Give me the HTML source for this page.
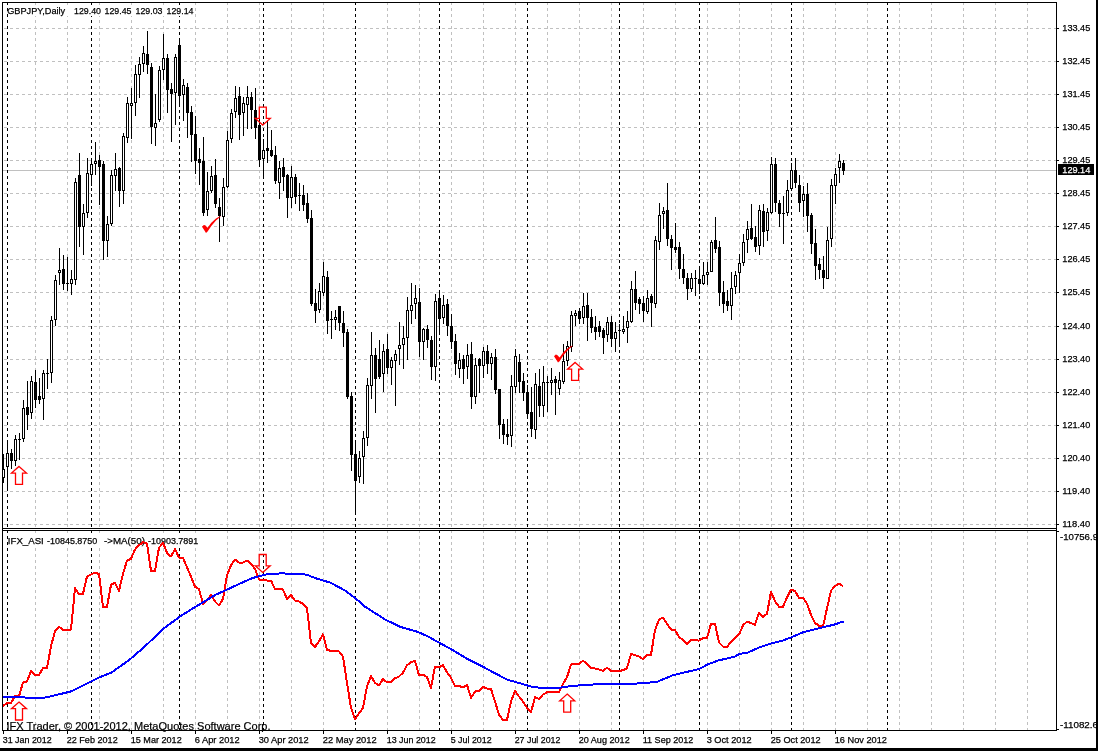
<!DOCTYPE html>
<html><head><meta charset="utf-8"><title>GBPJPY,Daily</title>
<style>
html,body{margin:0;padding:0;background:#fff;}
body{width:1098px;height:751px;overflow:hidden;}
svg{display:block;}
text{font-family:"Liberation Sans",sans-serif;font-size:9.8px;white-space:pre;}
</style></head><body>
<svg width="1098" height="751" viewBox="0 0 1098 751">
<rect x="0" y="0" width="1098" height="751" fill="#fff"/>
<g shape-rendering="crispEdges">
<line x1="35.5" y1="3" x2="35.5" y2="528" stroke="#c0c0c0" stroke-dasharray="3 3" stroke-dashoffset="1"/>
<line x1="35.5" y1="531" x2="35.5" y2="730" stroke="#c0c0c0" stroke-dasharray="3 3" stroke-dashoffset="1"/>
<line x1="67.5" y1="3" x2="67.5" y2="528" stroke="#c0c0c0" stroke-dasharray="3 3" stroke-dashoffset="1"/>
<line x1="67.5" y1="531" x2="67.5" y2="730" stroke="#c0c0c0" stroke-dasharray="3 3" stroke-dashoffset="1"/>
<line x1="99.5" y1="3" x2="99.5" y2="528" stroke="#c0c0c0" stroke-dasharray="3 3" stroke-dashoffset="1"/>
<line x1="99.5" y1="531" x2="99.5" y2="730" stroke="#c0c0c0" stroke-dasharray="3 3" stroke-dashoffset="1"/>
<line x1="131.5" y1="3" x2="131.5" y2="528" stroke="#c0c0c0" stroke-dasharray="3 3" stroke-dashoffset="1"/>
<line x1="131.5" y1="531" x2="131.5" y2="730" stroke="#c0c0c0" stroke-dasharray="3 3" stroke-dashoffset="1"/>
<line x1="163.5" y1="3" x2="163.5" y2="528" stroke="#c0c0c0" stroke-dasharray="3 3" stroke-dashoffset="1"/>
<line x1="163.5" y1="531" x2="163.5" y2="730" stroke="#c0c0c0" stroke-dasharray="3 3" stroke-dashoffset="1"/>
<line x1="195.5" y1="3" x2="195.5" y2="528" stroke="#c0c0c0" stroke-dasharray="3 3" stroke-dashoffset="1"/>
<line x1="195.5" y1="531" x2="195.5" y2="730" stroke="#c0c0c0" stroke-dasharray="3 3" stroke-dashoffset="1"/>
<line x1="227.5" y1="3" x2="227.5" y2="528" stroke="#c0c0c0" stroke-dasharray="3 3" stroke-dashoffset="1"/>
<line x1="227.5" y1="531" x2="227.5" y2="730" stroke="#c0c0c0" stroke-dasharray="3 3" stroke-dashoffset="1"/>
<line x1="259.5" y1="3" x2="259.5" y2="528" stroke="#c0c0c0" stroke-dasharray="3 3" stroke-dashoffset="1"/>
<line x1="259.5" y1="531" x2="259.5" y2="730" stroke="#c0c0c0" stroke-dasharray="3 3" stroke-dashoffset="1"/>
<line x1="291.5" y1="3" x2="291.5" y2="528" stroke="#c0c0c0" stroke-dasharray="3 3" stroke-dashoffset="1"/>
<line x1="291.5" y1="531" x2="291.5" y2="730" stroke="#c0c0c0" stroke-dasharray="3 3" stroke-dashoffset="1"/>
<line x1="323.5" y1="3" x2="323.5" y2="528" stroke="#c0c0c0" stroke-dasharray="3 3" stroke-dashoffset="1"/>
<line x1="323.5" y1="531" x2="323.5" y2="730" stroke="#c0c0c0" stroke-dasharray="3 3" stroke-dashoffset="1"/>
<line x1="355.5" y1="3" x2="355.5" y2="528" stroke="#c0c0c0" stroke-dasharray="3 3" stroke-dashoffset="1"/>
<line x1="355.5" y1="531" x2="355.5" y2="730" stroke="#c0c0c0" stroke-dasharray="3 3" stroke-dashoffset="1"/>
<line x1="387.5" y1="3" x2="387.5" y2="528" stroke="#c0c0c0" stroke-dasharray="3 3" stroke-dashoffset="1"/>
<line x1="387.5" y1="531" x2="387.5" y2="730" stroke="#c0c0c0" stroke-dasharray="3 3" stroke-dashoffset="1"/>
<line x1="419.5" y1="3" x2="419.5" y2="528" stroke="#c0c0c0" stroke-dasharray="3 3" stroke-dashoffset="1"/>
<line x1="419.5" y1="531" x2="419.5" y2="730" stroke="#c0c0c0" stroke-dasharray="3 3" stroke-dashoffset="1"/>
<line x1="451.5" y1="3" x2="451.5" y2="528" stroke="#c0c0c0" stroke-dasharray="3 3" stroke-dashoffset="1"/>
<line x1="451.5" y1="531" x2="451.5" y2="730" stroke="#c0c0c0" stroke-dasharray="3 3" stroke-dashoffset="1"/>
<line x1="483.5" y1="3" x2="483.5" y2="528" stroke="#c0c0c0" stroke-dasharray="3 3" stroke-dashoffset="1"/>
<line x1="483.5" y1="531" x2="483.5" y2="730" stroke="#c0c0c0" stroke-dasharray="3 3" stroke-dashoffset="1"/>
<line x1="515.5" y1="3" x2="515.5" y2="528" stroke="#c0c0c0" stroke-dasharray="3 3" stroke-dashoffset="1"/>
<line x1="515.5" y1="531" x2="515.5" y2="730" stroke="#c0c0c0" stroke-dasharray="3 3" stroke-dashoffset="1"/>
<line x1="547.5" y1="3" x2="547.5" y2="528" stroke="#c0c0c0" stroke-dasharray="3 3" stroke-dashoffset="1"/>
<line x1="547.5" y1="531" x2="547.5" y2="730" stroke="#c0c0c0" stroke-dasharray="3 3" stroke-dashoffset="1"/>
<line x1="579.5" y1="3" x2="579.5" y2="528" stroke="#c0c0c0" stroke-dasharray="3 3" stroke-dashoffset="1"/>
<line x1="579.5" y1="531" x2="579.5" y2="730" stroke="#c0c0c0" stroke-dasharray="3 3" stroke-dashoffset="1"/>
<line x1="611.5" y1="3" x2="611.5" y2="528" stroke="#c0c0c0" stroke-dasharray="3 3" stroke-dashoffset="1"/>
<line x1="611.5" y1="531" x2="611.5" y2="730" stroke="#c0c0c0" stroke-dasharray="3 3" stroke-dashoffset="1"/>
<line x1="643.5" y1="3" x2="643.5" y2="528" stroke="#c0c0c0" stroke-dasharray="3 3" stroke-dashoffset="1"/>
<line x1="643.5" y1="531" x2="643.5" y2="730" stroke="#c0c0c0" stroke-dasharray="3 3" stroke-dashoffset="1"/>
<line x1="675.5" y1="3" x2="675.5" y2="528" stroke="#c0c0c0" stroke-dasharray="3 3" stroke-dashoffset="1"/>
<line x1="675.5" y1="531" x2="675.5" y2="730" stroke="#c0c0c0" stroke-dasharray="3 3" stroke-dashoffset="1"/>
<line x1="707.5" y1="3" x2="707.5" y2="528" stroke="#c0c0c0" stroke-dasharray="3 3" stroke-dashoffset="1"/>
<line x1="707.5" y1="531" x2="707.5" y2="730" stroke="#c0c0c0" stroke-dasharray="3 3" stroke-dashoffset="1"/>
<line x1="739.5" y1="3" x2="739.5" y2="528" stroke="#c0c0c0" stroke-dasharray="3 3" stroke-dashoffset="1"/>
<line x1="739.5" y1="531" x2="739.5" y2="730" stroke="#c0c0c0" stroke-dasharray="3 3" stroke-dashoffset="1"/>
<line x1="771.5" y1="3" x2="771.5" y2="528" stroke="#c0c0c0" stroke-dasharray="3 3" stroke-dashoffset="1"/>
<line x1="771.5" y1="531" x2="771.5" y2="730" stroke="#c0c0c0" stroke-dasharray="3 3" stroke-dashoffset="1"/>
<line x1="803.5" y1="3" x2="803.5" y2="528" stroke="#c0c0c0" stroke-dasharray="3 3" stroke-dashoffset="1"/>
<line x1="803.5" y1="531" x2="803.5" y2="730" stroke="#c0c0c0" stroke-dasharray="3 3" stroke-dashoffset="1"/>
<line x1="835.5" y1="3" x2="835.5" y2="528" stroke="#c0c0c0" stroke-dasharray="3 3" stroke-dashoffset="1"/>
<line x1="835.5" y1="531" x2="835.5" y2="730" stroke="#c0c0c0" stroke-dasharray="3 3" stroke-dashoffset="1"/>
<line x1="867.5" y1="3" x2="867.5" y2="528" stroke="#c0c0c0" stroke-dasharray="3 3" stroke-dashoffset="1"/>
<line x1="867.5" y1="531" x2="867.5" y2="730" stroke="#c0c0c0" stroke-dasharray="3 3" stroke-dashoffset="1"/>
<line x1="899.5" y1="3" x2="899.5" y2="528" stroke="#c0c0c0" stroke-dasharray="3 3" stroke-dashoffset="1"/>
<line x1="899.5" y1="531" x2="899.5" y2="730" stroke="#c0c0c0" stroke-dasharray="3 3" stroke-dashoffset="1"/>
<line x1="931.5" y1="3" x2="931.5" y2="528" stroke="#c0c0c0" stroke-dasharray="3 3" stroke-dashoffset="1"/>
<line x1="931.5" y1="531" x2="931.5" y2="730" stroke="#c0c0c0" stroke-dasharray="3 3" stroke-dashoffset="1"/>
<line x1="963.5" y1="3" x2="963.5" y2="528" stroke="#c0c0c0" stroke-dasharray="3 3" stroke-dashoffset="1"/>
<line x1="963.5" y1="531" x2="963.5" y2="730" stroke="#c0c0c0" stroke-dasharray="3 3" stroke-dashoffset="1"/>
<line x1="995.5" y1="3" x2="995.5" y2="528" stroke="#c0c0c0" stroke-dasharray="3 3" stroke-dashoffset="1"/>
<line x1="995.5" y1="531" x2="995.5" y2="730" stroke="#c0c0c0" stroke-dasharray="3 3" stroke-dashoffset="1"/>
<line x1="1027.5" y1="3" x2="1027.5" y2="528" stroke="#c0c0c0" stroke-dasharray="3 3" stroke-dashoffset="1"/>
<line x1="1027.5" y1="531" x2="1027.5" y2="730" stroke="#c0c0c0" stroke-dasharray="3 3" stroke-dashoffset="1"/>
<line x1="3" y1="28.5" x2="1056" y2="28.5" stroke="#c0c0c0" stroke-dasharray="3 3" stroke-dashoffset="5"/>
<line x1="3" y1="61.5" x2="1056" y2="61.5" stroke="#c0c0c0" stroke-dasharray="3 3" stroke-dashoffset="5"/>
<line x1="3" y1="94.5" x2="1056" y2="94.5" stroke="#c0c0c0" stroke-dasharray="3 3" stroke-dashoffset="5"/>
<line x1="3" y1="127.5" x2="1056" y2="127.5" stroke="#c0c0c0" stroke-dasharray="3 3" stroke-dashoffset="5"/>
<line x1="3" y1="160.5" x2="1056" y2="160.5" stroke="#c0c0c0" stroke-dasharray="3 3" stroke-dashoffset="5"/>
<line x1="3" y1="193.5" x2="1056" y2="193.5" stroke="#c0c0c0" stroke-dasharray="3 3" stroke-dashoffset="5"/>
<line x1="3" y1="226.5" x2="1056" y2="226.5" stroke="#c0c0c0" stroke-dasharray="3 3" stroke-dashoffset="5"/>
<line x1="3" y1="259.5" x2="1056" y2="259.5" stroke="#c0c0c0" stroke-dasharray="3 3" stroke-dashoffset="5"/>
<line x1="3" y1="292.5" x2="1056" y2="292.5" stroke="#c0c0c0" stroke-dasharray="3 3" stroke-dashoffset="5"/>
<line x1="3" y1="326.5" x2="1056" y2="326.5" stroke="#c0c0c0" stroke-dasharray="3 3" stroke-dashoffset="5"/>
<line x1="3" y1="359.5" x2="1056" y2="359.5" stroke="#c0c0c0" stroke-dasharray="3 3" stroke-dashoffset="5"/>
<line x1="3" y1="392.5" x2="1056" y2="392.5" stroke="#c0c0c0" stroke-dasharray="3 3" stroke-dashoffset="5"/>
<line x1="3" y1="425.5" x2="1056" y2="425.5" stroke="#c0c0c0" stroke-dasharray="3 3" stroke-dashoffset="5"/>
<line x1="3" y1="458.5" x2="1056" y2="458.5" stroke="#c0c0c0" stroke-dasharray="3 3" stroke-dashoffset="5"/>
<line x1="3" y1="491.5" x2="1056" y2="491.5" stroke="#c0c0c0" stroke-dasharray="3 3" stroke-dashoffset="5"/>
<line x1="3" y1="524.5" x2="1056" y2="524.5" stroke="#c0c0c0" stroke-dasharray="3 3" stroke-dashoffset="5"/>
<rect x="3" y="170" width="1053" height="1" fill="#c0c0c0"/>
<line x1="7.5" y1="3" x2="7.5" y2="528" stroke="#000" stroke-dasharray="3 3" stroke-dashoffset="1"/>
<line x1="7.5" y1="531" x2="7.5" y2="730" stroke="#000" stroke-dasharray="3 3" stroke-dashoffset="1"/>
<line x1="91.5" y1="3" x2="91.5" y2="528" stroke="#000" stroke-dasharray="3 3" stroke-dashoffset="1"/>
<line x1="91.5" y1="531" x2="91.5" y2="730" stroke="#000" stroke-dasharray="3 3" stroke-dashoffset="1"/>
<line x1="179.5" y1="3" x2="179.5" y2="528" stroke="#000" stroke-dasharray="3 3" stroke-dashoffset="1"/>
<line x1="179.5" y1="531" x2="179.5" y2="730" stroke="#000" stroke-dasharray="3 3" stroke-dashoffset="1"/>
<line x1="263.5" y1="3" x2="263.5" y2="528" stroke="#000" stroke-dasharray="3 3" stroke-dashoffset="1"/>
<line x1="263.5" y1="531" x2="263.5" y2="730" stroke="#000" stroke-dasharray="3 3" stroke-dashoffset="1"/>
<line x1="355.5" y1="3" x2="355.5" y2="528" stroke="#000" stroke-dasharray="3 3" stroke-dashoffset="1"/>
<line x1="355.5" y1="531" x2="355.5" y2="730" stroke="#000" stroke-dasharray="3 3" stroke-dashoffset="1"/>
<line x1="439.5" y1="3" x2="439.5" y2="528" stroke="#000" stroke-dasharray="3 3" stroke-dashoffset="1"/>
<line x1="439.5" y1="531" x2="439.5" y2="730" stroke="#000" stroke-dasharray="3 3" stroke-dashoffset="1"/>
<line x1="527.5" y1="3" x2="527.5" y2="528" stroke="#000" stroke-dasharray="3 3" stroke-dashoffset="1"/>
<line x1="527.5" y1="531" x2="527.5" y2="730" stroke="#000" stroke-dasharray="3 3" stroke-dashoffset="1"/>
<line x1="619.5" y1="3" x2="619.5" y2="528" stroke="#000" stroke-dasharray="3 3" stroke-dashoffset="1"/>
<line x1="619.5" y1="531" x2="619.5" y2="730" stroke="#000" stroke-dasharray="3 3" stroke-dashoffset="1"/>
<line x1="699.5" y1="3" x2="699.5" y2="528" stroke="#000" stroke-dasharray="3 3" stroke-dashoffset="1"/>
<line x1="699.5" y1="531" x2="699.5" y2="730" stroke="#000" stroke-dasharray="3 3" stroke-dashoffset="1"/>
<line x1="791.5" y1="3" x2="791.5" y2="528" stroke="#000" stroke-dasharray="3 3" stroke-dashoffset="1"/>
<line x1="791.5" y1="531" x2="791.5" y2="730" stroke="#000" stroke-dasharray="3 3" stroke-dashoffset="1"/>
<line x1="887.5" y1="3" x2="887.5" y2="528" stroke="#000" stroke-dasharray="3 3" stroke-dashoffset="1"/>
<line x1="887.5" y1="531" x2="887.5" y2="730" stroke="#000" stroke-dasharray="3 3" stroke-dashoffset="1"/>
<rect x="3" y="454" width="1" height="29" fill="#000"/>
<rect x="2" y="469" width="3" height="9" fill="#000"/>
<rect x="3" y="470" width="1" height="7" fill="#fff"/>
<rect x="7" y="441" width="1" height="50" fill="#000"/>
<rect x="6" y="453" width="3" height="14" fill="#000"/>
<rect x="7" y="454" width="1" height="12" fill="#fff"/>
<rect x="11" y="449" width="1" height="20" fill="#000"/>
<rect x="10" y="453" width="3" height="8" fill="#000"/>
<rect x="15" y="435" width="1" height="31" fill="#000"/>
<rect x="14" y="439" width="3" height="22" fill="#000"/>
<rect x="15" y="440" width="1" height="20" fill="#fff"/>
<rect x="19" y="433" width="1" height="27" fill="#000"/>
<rect x="18" y="439" width="3" height="1" fill="#000"/>
<rect x="23" y="400" width="1" height="42" fill="#000"/>
<rect x="22" y="408" width="3" height="31" fill="#000"/>
<rect x="23" y="409" width="1" height="29" fill="#fff"/>
<rect x="27" y="381" width="1" height="49" fill="#000"/>
<rect x="26" y="407" width="3" height="8" fill="#000"/>
<rect x="31" y="376" width="1" height="43" fill="#000"/>
<rect x="30" y="381" width="3" height="32" fill="#000"/>
<rect x="31" y="382" width="1" height="30" fill="#fff"/>
<rect x="35" y="370" width="1" height="38" fill="#000"/>
<rect x="34" y="382" width="3" height="18" fill="#000"/>
<rect x="39" y="378" width="1" height="26" fill="#000"/>
<rect x="38" y="396" width="3" height="4" fill="#000"/>
<rect x="43" y="370" width="1" height="50" fill="#000"/>
<rect x="42" y="373" width="3" height="26" fill="#000"/>
<rect x="43" y="374" width="1" height="24" fill="#fff"/>
<rect x="47" y="359" width="1" height="30" fill="#000"/>
<rect x="46" y="373" width="3" height="1" fill="#000"/>
<rect x="51" y="316" width="1" height="67" fill="#000"/>
<rect x="50" y="320" width="3" height="53" fill="#000"/>
<rect x="51" y="321" width="1" height="51" fill="#fff"/>
<rect x="55" y="275" width="1" height="51" fill="#000"/>
<rect x="54" y="280" width="3" height="40" fill="#000"/>
<rect x="55" y="281" width="1" height="38" fill="#fff"/>
<rect x="59" y="248" width="1" height="37" fill="#000"/>
<rect x="58" y="270" width="3" height="3" fill="#000"/>
<rect x="59" y="271" width="1" height="1" fill="#fff"/>
<rect x="63" y="255" width="1" height="35" fill="#000"/>
<rect x="62" y="269" width="3" height="15" fill="#000"/>
<rect x="67" y="257" width="1" height="34" fill="#000"/>
<rect x="66" y="283" width="3" height="1" fill="#000"/>
<rect x="71" y="270" width="1" height="25" fill="#000"/>
<rect x="70" y="279" width="3" height="5" fill="#000"/>
<rect x="71" y="280" width="1" height="3" fill="#fff"/>
<rect x="75" y="178" width="1" height="107" fill="#000"/>
<rect x="74" y="182" width="3" height="98" fill="#000"/>
<rect x="75" y="183" width="1" height="96" fill="#fff"/>
<rect x="79" y="153" width="1" height="94" fill="#000"/>
<rect x="78" y="175" width="3" height="52" fill="#000"/>
<rect x="83" y="204" width="1" height="51" fill="#000"/>
<rect x="82" y="213" width="3" height="14" fill="#000"/>
<rect x="83" y="214" width="1" height="12" fill="#fff"/>
<rect x="87" y="158" width="1" height="60" fill="#000"/>
<rect x="86" y="173" width="3" height="40" fill="#000"/>
<rect x="87" y="174" width="1" height="38" fill="#fff"/>
<rect x="91" y="158" width="1" height="28" fill="#000"/>
<rect x="90" y="164" width="3" height="11" fill="#000"/>
<rect x="91" y="165" width="1" height="9" fill="#fff"/>
<rect x="95" y="142" width="1" height="33" fill="#000"/>
<rect x="94" y="161" width="3" height="3" fill="#000"/>
<rect x="95" y="162" width="1" height="1" fill="#fff"/>
<rect x="99" y="155" width="1" height="50" fill="#000"/>
<rect x="98" y="160" width="3" height="7" fill="#000"/>
<rect x="103" y="161" width="1" height="99" fill="#000"/>
<rect x="102" y="164" width="3" height="77" fill="#000"/>
<rect x="107" y="216" width="1" height="41" fill="#000"/>
<rect x="106" y="224" width="3" height="17" fill="#000"/>
<rect x="107" y="225" width="1" height="15" fill="#fff"/>
<rect x="111" y="170" width="1" height="56" fill="#000"/>
<rect x="110" y="175" width="3" height="49" fill="#000"/>
<rect x="111" y="176" width="1" height="47" fill="#fff"/>
<rect x="115" y="153" width="1" height="38" fill="#000"/>
<rect x="114" y="169" width="3" height="7" fill="#000"/>
<rect x="115" y="170" width="1" height="5" fill="#fff"/>
<rect x="119" y="167" width="1" height="40" fill="#000"/>
<rect x="118" y="168" width="3" height="23" fill="#000"/>
<rect x="123" y="133" width="1" height="71" fill="#000"/>
<rect x="122" y="136" width="3" height="55" fill="#000"/>
<rect x="123" y="137" width="1" height="53" fill="#fff"/>
<rect x="127" y="97" width="1" height="46" fill="#000"/>
<rect x="126" y="103" width="3" height="35" fill="#000"/>
<rect x="127" y="104" width="1" height="33" fill="#fff"/>
<rect x="131" y="88" width="1" height="51" fill="#000"/>
<rect x="130" y="103" width="3" height="3" fill="#000"/>
<rect x="131" y="104" width="1" height="1" fill="#fff"/>
<rect x="135" y="65" width="1" height="51" fill="#000"/>
<rect x="134" y="74" width="3" height="29" fill="#000"/>
<rect x="135" y="75" width="1" height="27" fill="#fff"/>
<rect x="139" y="57" width="1" height="41" fill="#000"/>
<rect x="138" y="64" width="3" height="11" fill="#000"/>
<rect x="139" y="65" width="1" height="9" fill="#fff"/>
<rect x="143" y="46" width="1" height="26" fill="#000"/>
<rect x="142" y="53" width="3" height="11" fill="#000"/>
<rect x="143" y="54" width="1" height="9" fill="#fff"/>
<rect x="147" y="31" width="1" height="43" fill="#000"/>
<rect x="146" y="54" width="3" height="11" fill="#000"/>
<rect x="151" y="63" width="1" height="81" fill="#000"/>
<rect x="150" y="67" width="3" height="60" fill="#000"/>
<rect x="155" y="94" width="1" height="52" fill="#000"/>
<rect x="154" y="123" width="3" height="5" fill="#000"/>
<rect x="155" y="124" width="1" height="3" fill="#fff"/>
<rect x="159" y="66" width="1" height="56" fill="#000"/>
<rect x="158" y="70" width="3" height="50" fill="#000"/>
<rect x="159" y="71" width="1" height="48" fill="#fff"/>
<rect x="163" y="34" width="1" height="46" fill="#000"/>
<rect x="162" y="58" width="3" height="12" fill="#000"/>
<rect x="163" y="59" width="1" height="10" fill="#fff"/>
<rect x="167" y="54" width="1" height="59" fill="#000"/>
<rect x="166" y="58" width="3" height="32" fill="#000"/>
<rect x="171" y="83" width="1" height="59" fill="#000"/>
<rect x="170" y="89" width="3" height="5" fill="#000"/>
<rect x="175" y="54" width="1" height="71" fill="#000"/>
<rect x="174" y="57" width="3" height="36" fill="#000"/>
<rect x="175" y="58" width="1" height="34" fill="#fff"/>
<rect x="179" y="38" width="1" height="68" fill="#000"/>
<rect x="178" y="45" width="3" height="51" fill="#000"/>
<rect x="183" y="79" width="1" height="42" fill="#000"/>
<rect x="182" y="85" width="3" height="10" fill="#000"/>
<rect x="183" y="86" width="1" height="8" fill="#fff"/>
<rect x="187" y="83" width="1" height="55" fill="#000"/>
<rect x="186" y="87" width="3" height="26" fill="#000"/>
<rect x="191" y="106" width="1" height="56" fill="#000"/>
<rect x="190" y="112" width="3" height="23" fill="#000"/>
<rect x="195" y="116" width="1" height="58" fill="#000"/>
<rect x="194" y="134" width="3" height="27" fill="#000"/>
<rect x="199" y="148" width="1" height="37" fill="#000"/>
<rect x="198" y="159" width="3" height="4" fill="#000"/>
<rect x="203" y="137" width="1" height="79" fill="#000"/>
<rect x="202" y="161" width="3" height="52" fill="#000"/>
<rect x="207" y="172" width="1" height="44" fill="#000"/>
<rect x="206" y="191" width="3" height="19" fill="#000"/>
<rect x="207" y="192" width="1" height="17" fill="#fff"/>
<rect x="211" y="166" width="1" height="27" fill="#000"/>
<rect x="210" y="176" width="3" height="15" fill="#000"/>
<rect x="211" y="177" width="1" height="13" fill="#fff"/>
<rect x="215" y="159" width="1" height="49" fill="#000"/>
<rect x="214" y="175" width="3" height="29" fill="#000"/>
<rect x="219" y="198" width="1" height="44" fill="#000"/>
<rect x="218" y="207" width="3" height="9" fill="#000"/>
<rect x="223" y="178" width="1" height="48" fill="#000"/>
<rect x="222" y="187" width="3" height="30" fill="#000"/>
<rect x="223" y="188" width="1" height="28" fill="#fff"/>
<rect x="227" y="131" width="1" height="57" fill="#000"/>
<rect x="226" y="140" width="3" height="47" fill="#000"/>
<rect x="227" y="141" width="1" height="45" fill="#fff"/>
<rect x="231" y="109" width="1" height="34" fill="#000"/>
<rect x="230" y="113" width="3" height="26" fill="#000"/>
<rect x="231" y="114" width="1" height="24" fill="#fff"/>
<rect x="235" y="86" width="1" height="32" fill="#000"/>
<rect x="234" y="98" width="3" height="14" fill="#000"/>
<rect x="235" y="99" width="1" height="12" fill="#fff"/>
<rect x="239" y="87" width="1" height="53" fill="#000"/>
<rect x="238" y="96" width="3" height="19" fill="#000"/>
<rect x="243" y="97" width="1" height="39" fill="#000"/>
<rect x="242" y="103" width="3" height="10" fill="#000"/>
<rect x="243" y="104" width="1" height="8" fill="#fff"/>
<rect x="247" y="86" width="1" height="43" fill="#000"/>
<rect x="246" y="97" width="3" height="8" fill="#000"/>
<rect x="247" y="98" width="1" height="6" fill="#fff"/>
<rect x="251" y="92" width="1" height="37" fill="#000"/>
<rect x="250" y="97" width="3" height="13" fill="#000"/>
<rect x="255" y="88" width="1" height="51" fill="#000"/>
<rect x="254" y="110" width="3" height="18" fill="#000"/>
<rect x="259" y="118" width="1" height="49" fill="#000"/>
<rect x="258" y="125" width="3" height="35" fill="#000"/>
<rect x="263" y="139" width="1" height="40" fill="#000"/>
<rect x="262" y="150" width="3" height="9" fill="#000"/>
<rect x="263" y="151" width="1" height="7" fill="#fff"/>
<rect x="267" y="121" width="1" height="42" fill="#000"/>
<rect x="266" y="148" width="3" height="3" fill="#000"/>
<rect x="271" y="130" width="1" height="27" fill="#000"/>
<rect x="270" y="150" width="3" height="6" fill="#000"/>
<rect x="275" y="146" width="1" height="38" fill="#000"/>
<rect x="274" y="155" width="3" height="26" fill="#000"/>
<rect x="279" y="161" width="1" height="38" fill="#000"/>
<rect x="278" y="168" width="3" height="15" fill="#000"/>
<rect x="279" y="169" width="1" height="13" fill="#fff"/>
<rect x="283" y="158" width="1" height="33" fill="#000"/>
<rect x="282" y="167" width="3" height="10" fill="#000"/>
<rect x="287" y="174" width="1" height="44" fill="#000"/>
<rect x="286" y="175" width="3" height="23" fill="#000"/>
<rect x="291" y="166" width="1" height="42" fill="#000"/>
<rect x="290" y="177" width="3" height="21" fill="#000"/>
<rect x="291" y="178" width="1" height="19" fill="#fff"/>
<rect x="295" y="174" width="1" height="30" fill="#000"/>
<rect x="294" y="177" width="3" height="20" fill="#000"/>
<rect x="299" y="183" width="1" height="28" fill="#000"/>
<rect x="298" y="195" width="3" height="1" fill="#000"/>
<rect x="303" y="185" width="1" height="26" fill="#000"/>
<rect x="302" y="195" width="3" height="10" fill="#000"/>
<rect x="307" y="193" width="1" height="30" fill="#000"/>
<rect x="306" y="203" width="3" height="16" fill="#000"/>
<rect x="311" y="210" width="1" height="96" fill="#000"/>
<rect x="310" y="218" width="3" height="86" fill="#000"/>
<rect x="315" y="289" width="1" height="34" fill="#000"/>
<rect x="314" y="303" width="3" height="8" fill="#000"/>
<rect x="319" y="283" width="1" height="30" fill="#000"/>
<rect x="318" y="291" width="3" height="19" fill="#000"/>
<rect x="319" y="292" width="1" height="17" fill="#fff"/>
<rect x="323" y="262" width="1" height="34" fill="#000"/>
<rect x="322" y="276" width="3" height="17" fill="#000"/>
<rect x="323" y="277" width="1" height="15" fill="#fff"/>
<rect x="327" y="271" width="1" height="63" fill="#000"/>
<rect x="326" y="277" width="3" height="44" fill="#000"/>
<rect x="331" y="311" width="1" height="28" fill="#000"/>
<rect x="330" y="319" width="3" height="1" fill="#000"/>
<rect x="335" y="310" width="1" height="20" fill="#000"/>
<rect x="334" y="317" width="3" height="3" fill="#000"/>
<rect x="335" y="318" width="1" height="1" fill="#fff"/>
<rect x="339" y="306" width="1" height="25" fill="#000"/>
<rect x="338" y="306" width="3" height="17" fill="#000"/>
<rect x="343" y="311" width="1" height="36" fill="#000"/>
<rect x="342" y="323" width="3" height="10" fill="#000"/>
<rect x="347" y="329" width="1" height="70" fill="#000"/>
<rect x="346" y="332" width="3" height="65" fill="#000"/>
<rect x="351" y="392" width="1" height="79" fill="#000"/>
<rect x="350" y="396" width="3" height="59" fill="#000"/>
<rect x="355" y="440" width="1" height="75" fill="#000"/>
<rect x="354" y="454" width="3" height="27" fill="#000"/>
<rect x="359" y="451" width="1" height="32" fill="#000"/>
<rect x="358" y="458" width="3" height="19" fill="#000"/>
<rect x="359" y="459" width="1" height="17" fill="#fff"/>
<rect x="363" y="431" width="1" height="53" fill="#000"/>
<rect x="362" y="438" width="3" height="19" fill="#000"/>
<rect x="363" y="439" width="1" height="17" fill="#fff"/>
<rect x="367" y="378" width="1" height="68" fill="#000"/>
<rect x="366" y="385" width="3" height="53" fill="#000"/>
<rect x="367" y="386" width="1" height="51" fill="#fff"/>
<rect x="371" y="332" width="1" height="67" fill="#000"/>
<rect x="370" y="355" width="3" height="31" fill="#000"/>
<rect x="371" y="356" width="1" height="29" fill="#fff"/>
<rect x="375" y="348" width="1" height="65" fill="#000"/>
<rect x="374" y="355" width="3" height="24" fill="#000"/>
<rect x="379" y="340" width="1" height="39" fill="#000"/>
<rect x="378" y="359" width="3" height="18" fill="#000"/>
<rect x="383" y="344" width="1" height="48" fill="#000"/>
<rect x="382" y="351" width="3" height="23" fill="#000"/>
<rect x="383" y="352" width="1" height="21" fill="#fff"/>
<rect x="387" y="334" width="1" height="40" fill="#000"/>
<rect x="386" y="349" width="3" height="19" fill="#000"/>
<rect x="391" y="357" width="1" height="28" fill="#000"/>
<rect x="390" y="360" width="3" height="8" fill="#000"/>
<rect x="391" y="361" width="1" height="6" fill="#fff"/>
<rect x="395" y="350" width="1" height="56" fill="#000"/>
<rect x="394" y="354" width="3" height="7" fill="#000"/>
<rect x="395" y="355" width="1" height="5" fill="#fff"/>
<rect x="399" y="322" width="1" height="43" fill="#000"/>
<rect x="398" y="345" width="3" height="4" fill="#000"/>
<rect x="399" y="346" width="1" height="2" fill="#fff"/>
<rect x="403" y="326" width="1" height="43" fill="#000"/>
<rect x="402" y="338" width="3" height="7" fill="#000"/>
<rect x="403" y="339" width="1" height="5" fill="#fff"/>
<rect x="407" y="297" width="1" height="63" fill="#000"/>
<rect x="406" y="310" width="3" height="28" fill="#000"/>
<rect x="407" y="311" width="1" height="26" fill="#fff"/>
<rect x="411" y="283" width="1" height="41" fill="#000"/>
<rect x="410" y="305" width="3" height="6" fill="#000"/>
<rect x="411" y="306" width="1" height="4" fill="#fff"/>
<rect x="415" y="285" width="1" height="34" fill="#000"/>
<rect x="414" y="298" width="3" height="6" fill="#000"/>
<rect x="415" y="299" width="1" height="4" fill="#fff"/>
<rect x="419" y="288" width="1" height="69" fill="#000"/>
<rect x="418" y="302" width="3" height="40" fill="#000"/>
<rect x="423" y="328" width="1" height="32" fill="#000"/>
<rect x="422" y="329" width="3" height="13" fill="#000"/>
<rect x="423" y="330" width="1" height="11" fill="#fff"/>
<rect x="427" y="325" width="1" height="23" fill="#000"/>
<rect x="426" y="329" width="3" height="11" fill="#000"/>
<rect x="431" y="336" width="1" height="44" fill="#000"/>
<rect x="430" y="340" width="3" height="27" fill="#000"/>
<rect x="435" y="294" width="1" height="87" fill="#000"/>
<rect x="434" y="301" width="3" height="66" fill="#000"/>
<rect x="435" y="302" width="1" height="64" fill="#fff"/>
<rect x="439" y="290" width="1" height="45" fill="#000"/>
<rect x="438" y="298" width="3" height="21" fill="#000"/>
<rect x="443" y="295" width="1" height="29" fill="#000"/>
<rect x="442" y="305" width="3" height="13" fill="#000"/>
<rect x="443" y="306" width="1" height="11" fill="#fff"/>
<rect x="447" y="299" width="1" height="37" fill="#000"/>
<rect x="446" y="304" width="3" height="22" fill="#000"/>
<rect x="451" y="314" width="1" height="35" fill="#000"/>
<rect x="450" y="326" width="3" height="16" fill="#000"/>
<rect x="455" y="334" width="1" height="41" fill="#000"/>
<rect x="454" y="341" width="3" height="23" fill="#000"/>
<rect x="459" y="353" width="1" height="25" fill="#000"/>
<rect x="458" y="360" width="3" height="9" fill="#000"/>
<rect x="459" y="361" width="1" height="7" fill="#fff"/>
<rect x="463" y="355" width="1" height="29" fill="#000"/>
<rect x="462" y="359" width="3" height="10" fill="#000"/>
<rect x="467" y="344" width="1" height="35" fill="#000"/>
<rect x="466" y="355" width="3" height="12" fill="#000"/>
<rect x="467" y="356" width="1" height="10" fill="#fff"/>
<rect x="471" y="342" width="1" height="67" fill="#000"/>
<rect x="470" y="354" width="3" height="43" fill="#000"/>
<rect x="475" y="358" width="1" height="46" fill="#000"/>
<rect x="474" y="365" width="3" height="32" fill="#000"/>
<rect x="475" y="366" width="1" height="30" fill="#fff"/>
<rect x="479" y="358" width="1" height="35" fill="#000"/>
<rect x="478" y="359" width="3" height="7" fill="#000"/>
<rect x="483" y="347" width="1" height="31" fill="#000"/>
<rect x="482" y="351" width="3" height="15" fill="#000"/>
<rect x="483" y="352" width="1" height="13" fill="#fff"/>
<rect x="487" y="345" width="1" height="29" fill="#000"/>
<rect x="486" y="351" width="3" height="13" fill="#000"/>
<rect x="491" y="353" width="1" height="27" fill="#000"/>
<rect x="490" y="357" width="3" height="7" fill="#000"/>
<rect x="491" y="358" width="1" height="5" fill="#fff"/>
<rect x="495" y="349" width="1" height="45" fill="#000"/>
<rect x="494" y="357" width="3" height="33" fill="#000"/>
<rect x="499" y="389" width="1" height="50" fill="#000"/>
<rect x="498" y="389" width="3" height="36" fill="#000"/>
<rect x="503" y="419" width="1" height="25" fill="#000"/>
<rect x="502" y="424" width="3" height="11" fill="#000"/>
<rect x="507" y="419" width="1" height="26" fill="#000"/>
<rect x="506" y="434" width="3" height="3" fill="#000"/>
<rect x="511" y="375" width="1" height="72" fill="#000"/>
<rect x="510" y="386" width="3" height="50" fill="#000"/>
<rect x="511" y="387" width="1" height="48" fill="#fff"/>
<rect x="515" y="349" width="1" height="44" fill="#000"/>
<rect x="514" y="356" width="3" height="31" fill="#000"/>
<rect x="515" y="357" width="1" height="29" fill="#fff"/>
<rect x="519" y="354" width="1" height="39" fill="#000"/>
<rect x="518" y="362" width="3" height="20" fill="#000"/>
<rect x="523" y="373" width="1" height="28" fill="#000"/>
<rect x="522" y="381" width="3" height="12" fill="#000"/>
<rect x="527" y="385" width="1" height="34" fill="#000"/>
<rect x="526" y="392" width="3" height="22" fill="#000"/>
<rect x="531" y="387" width="1" height="50" fill="#000"/>
<rect x="530" y="412" width="3" height="17" fill="#000"/>
<rect x="535" y="373" width="1" height="66" fill="#000"/>
<rect x="534" y="384" width="3" height="46" fill="#000"/>
<rect x="535" y="385" width="1" height="44" fill="#fff"/>
<rect x="539" y="369" width="1" height="48" fill="#000"/>
<rect x="538" y="386" width="3" height="20" fill="#000"/>
<rect x="543" y="366" width="1" height="51" fill="#000"/>
<rect x="542" y="382" width="3" height="24" fill="#000"/>
<rect x="543" y="383" width="1" height="22" fill="#fff"/>
<rect x="547" y="376" width="1" height="36" fill="#000"/>
<rect x="546" y="382" width="3" height="1" fill="#000"/>
<rect x="551" y="368" width="1" height="27" fill="#000"/>
<rect x="550" y="380" width="3" height="3" fill="#000"/>
<rect x="551" y="381" width="1" height="1" fill="#fff"/>
<rect x="555" y="376" width="1" height="39" fill="#000"/>
<rect x="554" y="379" width="3" height="4" fill="#000"/>
<rect x="559" y="372" width="1" height="23" fill="#000"/>
<rect x="558" y="380" width="3" height="9" fill="#000"/>
<rect x="559" y="381" width="1" height="7" fill="#fff"/>
<rect x="563" y="344" width="1" height="40" fill="#000"/>
<rect x="562" y="361" width="3" height="21" fill="#000"/>
<rect x="563" y="362" width="1" height="19" fill="#fff"/>
<rect x="567" y="341" width="1" height="25" fill="#000"/>
<rect x="566" y="346" width="3" height="15" fill="#000"/>
<rect x="567" y="347" width="1" height="13" fill="#fff"/>
<rect x="571" y="311" width="1" height="41" fill="#000"/>
<rect x="570" y="315" width="3" height="32" fill="#000"/>
<rect x="571" y="316" width="1" height="30" fill="#fff"/>
<rect x="575" y="310" width="1" height="16" fill="#000"/>
<rect x="574" y="313" width="3" height="3" fill="#000"/>
<rect x="575" y="314" width="1" height="1" fill="#fff"/>
<rect x="579" y="308" width="1" height="16" fill="#000"/>
<rect x="578" y="311" width="3" height="8" fill="#000"/>
<rect x="583" y="293" width="1" height="31" fill="#000"/>
<rect x="582" y="306" width="3" height="12" fill="#000"/>
<rect x="583" y="307" width="1" height="10" fill="#fff"/>
<rect x="587" y="293" width="1" height="48" fill="#000"/>
<rect x="586" y="305" width="3" height="13" fill="#000"/>
<rect x="591" y="309" width="1" height="24" fill="#000"/>
<rect x="590" y="317" width="3" height="11" fill="#000"/>
<rect x="595" y="316" width="1" height="24" fill="#000"/>
<rect x="594" y="327" width="3" height="5" fill="#000"/>
<rect x="599" y="321" width="1" height="16" fill="#000"/>
<rect x="598" y="326" width="3" height="6" fill="#000"/>
<rect x="603" y="328" width="1" height="26" fill="#000"/>
<rect x="602" y="330" width="3" height="8" fill="#000"/>
<rect x="607" y="317" width="1" height="25" fill="#000"/>
<rect x="606" y="322" width="3" height="13" fill="#000"/>
<rect x="607" y="323" width="1" height="11" fill="#fff"/>
<rect x="611" y="316" width="1" height="31" fill="#000"/>
<rect x="610" y="322" width="3" height="17" fill="#000"/>
<rect x="615" y="322" width="1" height="30" fill="#000"/>
<rect x="614" y="332" width="3" height="7" fill="#000"/>
<rect x="615" y="333" width="1" height="5" fill="#fff"/>
<rect x="619" y="324" width="1" height="23" fill="#000"/>
<rect x="618" y="330" width="3" height="1" fill="#000"/>
<rect x="623" y="316" width="1" height="18" fill="#000"/>
<rect x="622" y="329" width="3" height="3" fill="#000"/>
<rect x="623" y="330" width="1" height="1" fill="#fff"/>
<rect x="627" y="311" width="1" height="32" fill="#000"/>
<rect x="626" y="321" width="3" height="7" fill="#000"/>
<rect x="627" y="322" width="1" height="5" fill="#fff"/>
<rect x="631" y="281" width="1" height="42" fill="#000"/>
<rect x="630" y="289" width="3" height="33" fill="#000"/>
<rect x="631" y="290" width="1" height="31" fill="#fff"/>
<rect x="635" y="271" width="1" height="39" fill="#000"/>
<rect x="634" y="289" width="3" height="14" fill="#000"/>
<rect x="639" y="297" width="1" height="17" fill="#000"/>
<rect x="638" y="299" width="3" height="5" fill="#000"/>
<rect x="643" y="296" width="1" height="26" fill="#000"/>
<rect x="642" y="303" width="3" height="8" fill="#000"/>
<rect x="647" y="290" width="1" height="24" fill="#000"/>
<rect x="646" y="298" width="3" height="14" fill="#000"/>
<rect x="647" y="299" width="1" height="12" fill="#fff"/>
<rect x="651" y="294" width="1" height="33" fill="#000"/>
<rect x="650" y="296" width="3" height="7" fill="#000"/>
<rect x="655" y="236" width="1" height="72" fill="#000"/>
<rect x="654" y="240" width="3" height="64" fill="#000"/>
<rect x="655" y="241" width="1" height="62" fill="#fff"/>
<rect x="659" y="203" width="1" height="47" fill="#000"/>
<rect x="658" y="215" width="3" height="27" fill="#000"/>
<rect x="659" y="216" width="1" height="25" fill="#fff"/>
<rect x="663" y="207" width="1" height="22" fill="#000"/>
<rect x="662" y="211" width="3" height="3" fill="#000"/>
<rect x="663" y="212" width="1" height="1" fill="#fff"/>
<rect x="667" y="183" width="1" height="63" fill="#000"/>
<rect x="666" y="210" width="3" height="29" fill="#000"/>
<rect x="671" y="235" width="1" height="35" fill="#000"/>
<rect x="670" y="239" width="3" height="9" fill="#000"/>
<rect x="675" y="223" width="1" height="30" fill="#000"/>
<rect x="674" y="247" width="3" height="3" fill="#000"/>
<rect x="679" y="242" width="1" height="37" fill="#000"/>
<rect x="678" y="247" width="3" height="22" fill="#000"/>
<rect x="683" y="254" width="1" height="30" fill="#000"/>
<rect x="682" y="269" width="3" height="9" fill="#000"/>
<rect x="687" y="273" width="1" height="27" fill="#000"/>
<rect x="686" y="278" width="3" height="11" fill="#000"/>
<rect x="691" y="273" width="1" height="19" fill="#000"/>
<rect x="690" y="278" width="3" height="11" fill="#000"/>
<rect x="691" y="279" width="1" height="9" fill="#fff"/>
<rect x="695" y="270" width="1" height="26" fill="#000"/>
<rect x="694" y="278" width="3" height="1" fill="#000"/>
<rect x="699" y="266" width="1" height="28" fill="#000"/>
<rect x="698" y="279" width="3" height="5" fill="#000"/>
<rect x="703" y="262" width="1" height="23" fill="#000"/>
<rect x="702" y="275" width="3" height="9" fill="#000"/>
<rect x="703" y="276" width="1" height="7" fill="#fff"/>
<rect x="707" y="262" width="1" height="23" fill="#000"/>
<rect x="706" y="272" width="3" height="3" fill="#000"/>
<rect x="707" y="273" width="1" height="1" fill="#fff"/>
<rect x="711" y="240" width="1" height="32" fill="#000"/>
<rect x="710" y="242" width="3" height="30" fill="#000"/>
<rect x="711" y="243" width="1" height="28" fill="#fff"/>
<rect x="715" y="217" width="1" height="36" fill="#000"/>
<rect x="714" y="240" width="3" height="9" fill="#000"/>
<rect x="719" y="241" width="1" height="65" fill="#000"/>
<rect x="718" y="247" width="3" height="46" fill="#000"/>
<rect x="723" y="281" width="1" height="32" fill="#000"/>
<rect x="722" y="292" width="3" height="12" fill="#000"/>
<rect x="727" y="290" width="1" height="21" fill="#000"/>
<rect x="726" y="301" width="3" height="5" fill="#000"/>
<rect x="731" y="272" width="1" height="48" fill="#000"/>
<rect x="730" y="288" width="3" height="18" fill="#000"/>
<rect x="731" y="289" width="1" height="16" fill="#fff"/>
<rect x="735" y="271" width="1" height="23" fill="#000"/>
<rect x="734" y="275" width="3" height="12" fill="#000"/>
<rect x="735" y="276" width="1" height="10" fill="#fff"/>
<rect x="739" y="254" width="1" height="39" fill="#000"/>
<rect x="738" y="263" width="3" height="10" fill="#000"/>
<rect x="739" y="264" width="1" height="8" fill="#fff"/>
<rect x="743" y="234" width="1" height="32" fill="#000"/>
<rect x="742" y="242" width="3" height="21" fill="#000"/>
<rect x="743" y="243" width="1" height="19" fill="#fff"/>
<rect x="747" y="221" width="1" height="32" fill="#000"/>
<rect x="746" y="229" width="3" height="11" fill="#000"/>
<rect x="747" y="230" width="1" height="9" fill="#fff"/>
<rect x="751" y="204" width="1" height="36" fill="#000"/>
<rect x="750" y="228" width="3" height="11" fill="#000"/>
<rect x="755" y="226" width="1" height="26" fill="#000"/>
<rect x="754" y="237" width="3" height="10" fill="#000"/>
<rect x="759" y="205" width="1" height="50" fill="#000"/>
<rect x="758" y="210" width="3" height="36" fill="#000"/>
<rect x="759" y="211" width="1" height="34" fill="#fff"/>
<rect x="763" y="204" width="1" height="43" fill="#000"/>
<rect x="762" y="211" width="3" height="21" fill="#000"/>
<rect x="767" y="208" width="1" height="33" fill="#000"/>
<rect x="766" y="212" width="3" height="19" fill="#000"/>
<rect x="767" y="213" width="1" height="17" fill="#fff"/>
<rect x="771" y="157" width="1" height="57" fill="#000"/>
<rect x="770" y="164" width="3" height="49" fill="#000"/>
<rect x="771" y="165" width="1" height="47" fill="#fff"/>
<rect x="775" y="158" width="1" height="54" fill="#000"/>
<rect x="774" y="164" width="3" height="39" fill="#000"/>
<rect x="779" y="200" width="1" height="27" fill="#000"/>
<rect x="778" y="203" width="3" height="11" fill="#000"/>
<rect x="783" y="196" width="1" height="48" fill="#000"/>
<rect x="782" y="213" width="3" height="1" fill="#000"/>
<rect x="787" y="180" width="1" height="36" fill="#000"/>
<rect x="786" y="190" width="3" height="23" fill="#000"/>
<rect x="787" y="191" width="1" height="21" fill="#fff"/>
<rect x="791" y="163" width="1" height="27" fill="#000"/>
<rect x="790" y="170" width="3" height="19" fill="#000"/>
<rect x="791" y="171" width="1" height="17" fill="#fff"/>
<rect x="795" y="158" width="1" height="30" fill="#000"/>
<rect x="794" y="170" width="3" height="13" fill="#000"/>
<rect x="799" y="175" width="1" height="37" fill="#000"/>
<rect x="798" y="185" width="3" height="18" fill="#000"/>
<rect x="803" y="186" width="1" height="31" fill="#000"/>
<rect x="802" y="194" width="3" height="7" fill="#000"/>
<rect x="803" y="195" width="1" height="5" fill="#fff"/>
<rect x="807" y="183" width="1" height="49" fill="#000"/>
<rect x="806" y="194" width="3" height="22" fill="#000"/>
<rect x="811" y="213" width="1" height="41" fill="#000"/>
<rect x="810" y="215" width="3" height="29" fill="#000"/>
<rect x="815" y="229" width="1" height="51" fill="#000"/>
<rect x="814" y="243" width="3" height="23" fill="#000"/>
<rect x="819" y="258" width="1" height="21" fill="#000"/>
<rect x="818" y="264" width="3" height="6" fill="#000"/>
<rect x="823" y="256" width="1" height="33" fill="#000"/>
<rect x="822" y="270" width="3" height="8" fill="#000"/>
<rect x="827" y="227" width="1" height="52" fill="#000"/>
<rect x="826" y="240" width="3" height="39" fill="#000"/>
<rect x="827" y="241" width="1" height="37" fill="#fff"/>
<rect x="831" y="179" width="1" height="68" fill="#000"/>
<rect x="830" y="185" width="3" height="54" fill="#000"/>
<rect x="831" y="186" width="1" height="52" fill="#fff"/>
<rect x="835" y="168" width="1" height="36" fill="#000"/>
<rect x="834" y="174" width="3" height="12" fill="#000"/>
<rect x="835" y="175" width="1" height="10" fill="#fff"/>
<rect x="839" y="154" width="1" height="29" fill="#000"/>
<rect x="838" y="161" width="3" height="7" fill="#000"/>
<rect x="839" y="162" width="1" height="5" fill="#fff"/>
<rect x="843" y="160" width="1" height="15" fill="#000"/>
<rect x="842" y="163" width="3" height="8" fill="#000"/>
</g>
<g>
<rect x="8" y="5" width="187" height="11" fill="#fff"/>
<text x="7.2" y="14" textLength="58" lengthAdjust="spacingAndGlyphs" fill="#000" stroke="#000" stroke-width="0.25" text-anchor="start">GBPJPY,Daily</text>
<text x="74" y="14" textLength="27" lengthAdjust="spacingAndGlyphs" fill="#000" stroke="#000" stroke-width="0.25" text-anchor="start">129.40</text>
<text x="104.5" y="14" textLength="27" lengthAdjust="spacingAndGlyphs" fill="#000" stroke="#000" stroke-width="0.25" text-anchor="start">129.45</text>
<text x="135.5" y="14" textLength="27" lengthAdjust="spacingAndGlyphs" fill="#000" stroke="#000" stroke-width="0.25" text-anchor="start">129.03</text>
<text x="166.5" y="14" textLength="27" lengthAdjust="spacingAndGlyphs" fill="#000" stroke="#000" stroke-width="0.25" text-anchor="start">129.14</text>
<rect x="8" y="535" width="192" height="11" fill="#fff"/>
<text x="7.8" y="544" textLength="36" lengthAdjust="spacingAndGlyphs" fill="#000" stroke="#000" stroke-width="0.25" text-anchor="start">IFX_ASI</text>
<text x="47" y="544" textLength="50.3" lengthAdjust="spacingAndGlyphs" fill="#000" stroke="#000" stroke-width="0.25" text-anchor="start">-10845.8750</text>
<text x="104" y="544" textLength="41" lengthAdjust="spacingAndGlyphs" fill="#000" stroke="#000" stroke-width="0.25" text-anchor="start">-&gt;MA(50)</text>
<text x="148" y="544" textLength="50.3" lengthAdjust="spacingAndGlyphs" fill="#000" stroke="#000" stroke-width="0.25" text-anchor="start">-10903.7891</text>
</g>
<g shape-rendering="crispEdges">
<polyline fill="none" stroke="#ff0000" stroke-width="2" stroke-linejoin="round" points="3.0,706.1 7.0,702.9 11.0,702.9 15.0,696.3 19.0,696.3 23.0,682.4 27.0,681.6 31.0,670.9 35.0,675.0 39.0,675.0 43.0,668.0 47.0,668.0 51.0,646.4 55.0,631.0 59.0,626.7 63.0,629.7 67.0,629.7 71.0,629.5 75.0,588.2 79.0,594.0 83.0,593.7 87.0,576.4 91.0,574.5 95.0,572.7 99.0,574.0 103.0,606.8 107.0,606.8 111.0,584.9 115.0,582.7 119.0,591.0 123.0,573.6 127.0,560.8 131.0,558.7 135.0,549.5 139.0,545.3 143.0,542.2 147.0,543.5 151.0,570.9 155.0,570.9 159.0,547.7 163.0,543.0 167.0,552.6 171.0,556.6 175.0,549.0 179.0,557.6 183.0,558.1 187.0,567.2 191.0,576.6 195.0,586.8 199.0,589.0 203.0,603.9 207.0,600.1 211.0,595.1 215.0,601.4 219.0,605.6 223.0,598.9 227.0,575.1 231.0,565.1 235.0,559.5 239.0,562.5 243.0,562.5 247.0,560.5 251.0,563.8 255.0,568.8 259.0,579.6 263.0,579.6 267.0,580.6 271.0,580.6 275.0,589.3 279.0,588.8 283.0,589.6 287.0,598.9 291.0,595.1 295.0,600.6 299.0,601.4 303.0,603.9 307.0,608.1 311.0,643.2 315.0,646.9 319.0,641.4 323.0,634.4 327.0,649.7 331.0,651.0 335.0,650.7 339.0,651.5 343.0,656.5 347.0,682.8 351.0,707.8 355.0,719.1 359.0,713.3 363.0,707.8 367.0,686.5 371.0,676.0 375.0,682.8 379.0,685.3 383.0,679.0 387.0,682.3 391.0,682.3 395.0,678.3 399.0,676.5 403.0,672.7 407.0,665.2 411.0,662.2 415.0,661.0 419.0,675.2 423.0,674.7 427.0,677.0 431.0,687.8 435.0,666.5 439.0,667.2 443.0,665.2 447.0,672.2 451.0,677.8 455.0,685.8 459.0,686.0 463.0,687.3 467.0,684.8 471.0,697.8 475.0,691.5 479.0,690.8 483.0,687.0 487.0,688.5 491.0,689.0 495.0,701.5 499.0,714.8 503.0,719.8 507.0,719.8 511.0,701.5 515.0,691.0 519.0,696.5 523.0,701.5 527.0,707.8 531.0,712.1 535.0,697.3 539.0,699.0 543.0,694.5 547.0,692.3 551.0,692.0 555.0,692.0 559.0,692.0 563.0,684.0 567.0,677.2 571.0,664.5 575.0,664.0 579.0,664.0 583.0,660.7 587.0,664.0 591.0,667.7 595.0,668.5 599.0,669.5 603.0,671.0 607.0,667.7 611.0,670.7 615.0,671.0 619.0,671.0 623.0,670.2 627.0,668.2 631.0,654.0 635.0,655.2 639.0,656.5 643.0,659.0 647.0,655.2 651.0,654.7 655.0,630.2 659.0,619.6 663.0,617.6 667.0,623.9 671.0,629.4 675.0,630.2 679.0,636.9 683.0,640.2 687.0,643.9 691.0,640.2 695.0,640.2 699.0,640.6 703.0,638.1 707.0,638.0 711.0,623.9 715.0,623.9 719.0,642.4 723.0,646.6 727.0,646.8 731.0,642.1 735.0,637.6 739.0,634.5 743.0,625.3 747.0,621.7 751.0,623.0 755.0,624.8 759.0,612.9 763.0,616.9 767.0,613.8 771.0,591.9 775.0,601.1 779.0,606.9 783.0,606.9 787.0,597.4 791.0,589.6 795.0,591.0 799.0,597.8 803.0,597.8 807.0,603.8 811.0,614.7 815.0,623.0 819.0,625.7 823.0,626.6 827.0,608.4 831.0,590.7 835.0,586.1 839.0,583.7 843.0,586.1"/>
<polyline fill="none" stroke="#0000ff" stroke-width="2" stroke-linejoin="round" points="3.0,697.0 23.0,697.0 27.0,698.0 43.0,698.0 51.0,696.3 71.0,691.4 91.0,681.6 100.0,677.1 111.5,672.5 129.5,659.8 145.0,646.3 164.2,628.0 180.7,616.1 190.0,610.1 202.5,602.6 215.0,595.1 227.6,589.3 240.1,583.5 252.6,578.0 265.1,574.6 281.4,573.3 306.5,574.6 315.2,578.1 330.2,582.6 345.3,590.6 355.3,598.1 365.3,606.9 385.3,619.6 400.4,626.9 417.9,631.9 427.9,636.4 440.4,643.4 453.0,650.2 467.5,659.0 480.0,665.2 492.6,672.0 507.6,679.8 520.1,683.3 532.6,687.0 541.4,687.8 558.9,687.8 567.7,686.5 580.2,685.3 592.7,684.5 630.3,684.0 647.8,682.8 657.9,681.5 672.9,675.2 685.4,672.2 699.2,669.0 707.3,664.6 718.2,660.5 734.7,656.7 739.4,654.0 747.4,652.7 760.2,647.0 771.5,643.4 782.1,640.8 791.6,637.2 803.5,632.1 818.6,628.4 835.0,624.4 840.5,622.4 843.8,622.0"/>
</g>
<g>
<path d="M19 466.40000000000003 L26.5 473.1 L22.5 473.1 L22.5 484.40000000000003 L15.5 484.40000000000003 L15.5 473.1 L11.5 473.1 Z" fill="#fff" stroke="#ff0000" stroke-width="1.3" stroke-linejoin="miter"/>
<path d="M575.1 362.40000000000003 L582.6 369.1 L578.6 369.1 L578.6 380.40000000000003 L571.6 380.40000000000003 L571.6 369.1 L567.6 369.1 Z" fill="#fff" stroke="#ff0000" stroke-width="1.3" stroke-linejoin="miter"/>
<path d="M262.8 125.10000000000001 L270.3 118.4 L266.3 118.4 L266.3 107.10000000000001 L259.3 107.10000000000001 L259.3 118.4 L255.3 118.4 Z" fill="none" stroke="#ff0000" stroke-width="1.3" stroke-linejoin="miter"/>
<path d="M19 702.0 L26.5 708.7 L22.5 708.7 L22.5 720.0 L15.5 720.0 L15.5 708.7 L11.5 708.7 Z" fill="#fff" stroke="#ff0000" stroke-width="1.3" stroke-linejoin="miter"/>
<path d="M567.2 694.0999999999999 L574.7 700.8 L570.7 700.8 L570.7 712.0999999999999 L563.7 712.0999999999999 L563.7 700.8 L559.7 700.8 Z" fill="#fff" stroke="#ff0000" stroke-width="1.3" stroke-linejoin="miter"/>
<path d="M262.7 572.5 L270.2 565.8 L266.2 565.8 L266.2 554.5 L259.2 554.5 L259.2 565.8 L255.2 565.8 Z" fill="none" stroke="#ff0000" stroke-width="1.3" stroke-linejoin="miter"/>
<path d="M202.0 226.7 L203.8 225.0 L205.2 225.3 L207.6 227.8 L211.3 222.7 L216.0 218.5 L220.4 216.0 L220.4 216.7 L216.0 220.4 L211.3 226.0 L207.6 231.6 L206.0 232.9 L204.3 230.2 Z" fill="#ff0000"/>
<path d="M554.0 356.3 L555.8 354.6 L557.2 354.9 L559.6 357.4 L563.3 352.3 L568.0 348.1 L572.4 345.6 L572.4 346.3 L568.0 350.0 L563.3 355.6 L559.6 361.2 L558.0 362.5 L556.3 359.8 Z" fill="#ff0000"/>
</g>
<g shape-rendering="crispEdges">
<rect x="2" y="2" width="1055" height="1" fill="#000"/>
<rect x="2" y="2" width="1" height="729" fill="#000"/>
<rect x="1056" y="2" width="1" height="729" fill="#000"/>
<rect x="2" y="528" width="1055" height="1" fill="#000"/>
<rect x="2" y="530" width="1055" height="1" fill="#000"/>
<rect x="2" y="730" width="1055" height="1" fill="#000"/>
<rect x="1096" y="0" width="2" height="751" fill="#000"/>
<rect x="0" y="748" width="1098" height="3" fill="#000"/>
<rect x="1057" y="28" width="2" height="1" fill="#000"/>
<rect x="1057" y="61" width="2" height="1" fill="#000"/>
<rect x="1057" y="94" width="2" height="1" fill="#000"/>
<rect x="1057" y="127" width="2" height="1" fill="#000"/>
<rect x="1057" y="160" width="2" height="1" fill="#000"/>
<rect x="1057" y="193" width="2" height="1" fill="#000"/>
<rect x="1057" y="226" width="2" height="1" fill="#000"/>
<rect x="1057" y="259" width="2" height="1" fill="#000"/>
<rect x="1057" y="292" width="2" height="1" fill="#000"/>
<rect x="1057" y="326" width="2" height="1" fill="#000"/>
<rect x="1057" y="359" width="2" height="1" fill="#000"/>
<rect x="1057" y="392" width="2" height="1" fill="#000"/>
<rect x="1057" y="425" width="2" height="1" fill="#000"/>
<rect x="1057" y="458" width="2" height="1" fill="#000"/>
<rect x="1057" y="491" width="2" height="1" fill="#000"/>
<rect x="1057" y="524" width="2" height="1" fill="#000"/>
<rect x="1057" y="531" width="2" height="1" fill="#000"/>
<rect x="1057" y="729" width="2" height="1" fill="#000"/>
<rect x="3" y="731" width="1" height="3" fill="#000"/>
<rect x="67" y="731" width="1" height="3" fill="#000"/>
<rect x="131" y="731" width="1" height="3" fill="#000"/>
<rect x="195" y="731" width="1" height="3" fill="#000"/>
<rect x="259" y="731" width="1" height="3" fill="#000"/>
<rect x="323" y="731" width="1" height="3" fill="#000"/>
<rect x="387" y="731" width="1" height="3" fill="#000"/>
<rect x="451" y="731" width="1" height="3" fill="#000"/>
<rect x="515" y="731" width="1" height="3" fill="#000"/>
<rect x="579" y="731" width="1" height="3" fill="#000"/>
<rect x="643" y="731" width="1" height="3" fill="#000"/>
<rect x="707" y="731" width="1" height="3" fill="#000"/>
<rect x="771" y="731" width="1" height="3" fill="#000"/>
<rect x="835" y="731" width="1" height="3" fill="#000"/>
<rect x="1058" y="164" width="36" height="11" fill="#000"/>
</g>
<g>
<text x="1062.3" y="31" textLength="28" lengthAdjust="spacingAndGlyphs" fill="#000" stroke="#000" stroke-width="0.25" text-anchor="start">133.45</text>
<text x="1062.3" y="64" textLength="28" lengthAdjust="spacingAndGlyphs" fill="#000" stroke="#000" stroke-width="0.25" text-anchor="start">132.45</text>
<text x="1062.3" y="97" textLength="28" lengthAdjust="spacingAndGlyphs" fill="#000" stroke="#000" stroke-width="0.25" text-anchor="start">131.45</text>
<text x="1062.3" y="130" textLength="28" lengthAdjust="spacingAndGlyphs" fill="#000" stroke="#000" stroke-width="0.25" text-anchor="start">130.45</text>
<text x="1062.3" y="163" textLength="28" lengthAdjust="spacingAndGlyphs" fill="#000" stroke="#000" stroke-width="0.25" text-anchor="start">129.45</text>
<text x="1062.3" y="196" textLength="28" lengthAdjust="spacingAndGlyphs" fill="#000" stroke="#000" stroke-width="0.25" text-anchor="start">128.45</text>
<text x="1062.3" y="229" textLength="28" lengthAdjust="spacingAndGlyphs" fill="#000" stroke="#000" stroke-width="0.25" text-anchor="start">127.45</text>
<text x="1062.3" y="262" textLength="28" lengthAdjust="spacingAndGlyphs" fill="#000" stroke="#000" stroke-width="0.25" text-anchor="start">126.45</text>
<text x="1062.3" y="295" textLength="28" lengthAdjust="spacingAndGlyphs" fill="#000" stroke="#000" stroke-width="0.25" text-anchor="start">125.45</text>
<text x="1062.3" y="329" textLength="28" lengthAdjust="spacingAndGlyphs" fill="#000" stroke="#000" stroke-width="0.25" text-anchor="start">124.40</text>
<text x="1062.3" y="362" textLength="28" lengthAdjust="spacingAndGlyphs" fill="#000" stroke="#000" stroke-width="0.25" text-anchor="start">123.40</text>
<text x="1062.3" y="395" textLength="28" lengthAdjust="spacingAndGlyphs" fill="#000" stroke="#000" stroke-width="0.25" text-anchor="start">122.40</text>
<text x="1062.3" y="428" textLength="28" lengthAdjust="spacingAndGlyphs" fill="#000" stroke="#000" stroke-width="0.25" text-anchor="start">121.40</text>
<text x="1062.3" y="461" textLength="28" lengthAdjust="spacingAndGlyphs" fill="#000" stroke="#000" stroke-width="0.25" text-anchor="start">120.40</text>
<text x="1062.3" y="494" textLength="28" lengthAdjust="spacingAndGlyphs" fill="#000" stroke="#000" stroke-width="0.25" text-anchor="start">119.40</text>
<text x="1062.3" y="527" textLength="28" lengthAdjust="spacingAndGlyphs" fill="#000" stroke="#000" stroke-width="0.25" text-anchor="start">118.40</text>
<text x="1062.3" y="173" textLength="28" lengthAdjust="spacingAndGlyphs" fill="#fff" stroke="#fff" stroke-width="0.25" text-anchor="start">129.14</text>
<text x="1060" y="540" textLength="38" lengthAdjust="spacingAndGlyphs" fill="#000" stroke="#000" stroke-width="0.25" text-anchor="start">-10756.9</text>
<text x="1060" y="728" textLength="38" lengthAdjust="spacingAndGlyphs" fill="#000" stroke="#000" stroke-width="0.25" text-anchor="start">-11082.6</text>
<text x="2.7" y="743" textLength="49" lengthAdjust="spacingAndGlyphs" fill="#000" stroke="#000" stroke-width="0.25" text-anchor="start">31 Jan 2012</text>
<text x="66.7" y="743" textLength="51" lengthAdjust="spacingAndGlyphs" fill="#000" stroke="#000" stroke-width="0.25" text-anchor="start">22 Feb 2012</text>
<text x="130.7" y="743" textLength="51" lengthAdjust="spacingAndGlyphs" fill="#000" stroke="#000" stroke-width="0.25" text-anchor="start">15 Mar 2012</text>
<text x="194.7" y="743" textLength="45" lengthAdjust="spacingAndGlyphs" fill="#000" stroke="#000" stroke-width="0.25" text-anchor="start">6 Apr 2012</text>
<text x="258.7" y="743" textLength="50" lengthAdjust="spacingAndGlyphs" fill="#000" stroke="#000" stroke-width="0.25" text-anchor="start">30 Apr 2012</text>
<text x="322.7" y="743" textLength="54" lengthAdjust="spacingAndGlyphs" fill="#000" stroke="#000" stroke-width="0.25" text-anchor="start">22 May 2012</text>
<text x="386.7" y="743" textLength="49" lengthAdjust="spacingAndGlyphs" fill="#000" stroke="#000" stroke-width="0.25" text-anchor="start">13 Jun 2012</text>
<text x="450.7" y="743" textLength="41" lengthAdjust="spacingAndGlyphs" fill="#000" stroke="#000" stroke-width="0.25" text-anchor="start">5 Jul 2012</text>
<text x="514.7" y="743" textLength="45.7" lengthAdjust="spacingAndGlyphs" fill="#000" stroke="#000" stroke-width="0.25" text-anchor="start">27 Jul 2012</text>
<text x="578.7" y="743" textLength="51" lengthAdjust="spacingAndGlyphs" fill="#000" stroke="#000" stroke-width="0.25" text-anchor="start">20 Aug 2012</text>
<text x="642.7" y="743" textLength="50.7" lengthAdjust="spacingAndGlyphs" fill="#000" stroke="#000" stroke-width="0.25" text-anchor="start">11 Sep 2012</text>
<text x="706.7" y="743" textLength="45" lengthAdjust="spacingAndGlyphs" fill="#000" stroke="#000" stroke-width="0.25" text-anchor="start">3 Oct 2012</text>
<text x="770.7" y="743" textLength="50" lengthAdjust="spacingAndGlyphs" fill="#000" stroke="#000" stroke-width="0.25" text-anchor="start">25 Oct 2012</text>
<text x="834.7" y="743" textLength="52.3" lengthAdjust="spacingAndGlyphs" fill="#000" stroke="#000" stroke-width="0.25" text-anchor="start">16 Nov 2012</text>
<text x="6.5" y="730" textLength="264" lengthAdjust="spacingAndGlyphs" style="font-size:11px" fill="#000" stroke="#000" stroke-width="0.2">IFX Trader, © 2001-2012, MetaQuotes Software Corp.</text>
</g>
</svg>
</body></html>
